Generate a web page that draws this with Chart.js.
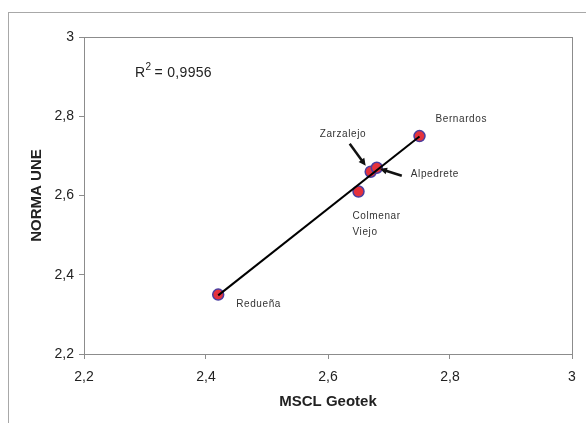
<!DOCTYPE html>
<html>
<head>
<meta charset="utf-8">
<script src="https://cdn.jsdelivr.net/npm/chart.js@4.4.1/dist/chart.umd.min.js"></script>
<style>
  html, body { margin: 0; padding: 0; background: #fff; overflow: hidden; }
  #wrap { position: relative; width: 586px; height: 423px; }
  #frame { position: absolute; left: 8px; top: 12px; width: 700px; height: 500px; border: 1px solid #a8a8a8; }
  canvas { position: absolute; left: 0; top: 0; }
</style>
</head>
<body>
<div id="wrap">
  <div id="frame"></div>
  <canvas id="scatter" width="586" height="423"></canvas>
</div>
<script>
// Datos
var sites = ['Redueña', 'Colmenar Viejo', 'Zarzalejo', 'Alpedrete', 'Bernardos'];
var mscl = [2.42, 2.65, 2.67, 2.68, 2.75];
var une = [2.35, 2.61, 2.66, 2.67, 2.75];
var axisTicks = [2.2, 2.4, 2.6, 2.8, 3];
var r2Text = '0,9956';

document.addEventListener('DOMContentLoaded', function () {
  var ctx = document.getElementById('scatter').getContext('2d');

  // Recta de regresion (minimos cuadrados)
  var n = mscl.length, mx = 0, my = 0;
  for (var i = 0; i < n; i++) { mx += mscl[i] / n; my += une[i] / n; }
  var sxy = 0, sxx = 0;
  for (i = 0; i < n; i++) { sxy += (mscl[i] - mx) * (une[i] - my); sxx += (mscl[i] - mx) * (mscl[i] - mx); }
  var slope = sxy / sxx, icpt = my - slope * mx;
  var xMin = Math.min.apply(null, mscl), xMax = Math.max.apply(null, mscl);
  var trend = [{ x: xMin, y: icpt + slope * xMin }, { x: xMax, y: icpt + slope * xMax }];

  var points = mscl.map(function (v, k) { return { x: v, y: une[k] }; });

  function fmt(v) { return String(Math.round(v * 10) / 10).replace('.', ','); }

  // Posicion de las etiquetas respecto a cada punto (px)
  var labelPos = {
    'Redueña': { dx: 18, dy: 10, lines: ['Redueña'] },
    'Colmenar Viejo': { dx: -6, dy: 25, lines: ['Colmenar', 'Viejo'] },
    'Zarzalejo': { dx: -51, dy: -37, lines: ['Zarzalejo'], arrow: [-21, -28, -5, -6] },
    'Alpedrete': { dx: 34, dy: 6, lines: ['Alpedrete'], arrow: [25, 8, 3, 1] },
    'Bernardos': { dx: 16, dy: -17, lines: ['Bernardos'] }
  };

  function drawArrow(c, x1, y1, x2, y2) {
    var a = Math.atan2(y2 - y1, x2 - x1), h = 8;
    c.beginPath();
    c.moveTo(x1, y1);
    c.lineTo(x2 - Math.cos(a) * 4, y2 - Math.sin(a) * 4);
    c.stroke();
    c.beginPath();
    c.moveTo(x2, y2);
    c.lineTo(x2 - h * Math.cos(a - 0.45), y2 - h * Math.sin(a - 0.45));
    c.lineTo(x2 - h * Math.cos(a + 0.45), y2 - h * Math.sin(a + 0.45));
    c.closePath();
    c.fill();
  }

  var extras = {
    id: 'extras',
    beforeDatasetsDraw: function (chart) {
      var a = chart.chartArea, c = chart.ctx;
      c.save();
      c.strokeStyle = '#8c8c8c';
      c.lineWidth = 1;
      c.strokeRect(a.left + 0.5, a.top + 0.5, a.right - a.left, a.bottom - a.top);
      c.restore();
    },
    afterDatasetsDraw: function (chart) {
      var c = chart.ctx, xs = chart.scales.x, ys = chart.scales.y;
      c.save();
      c.fillStyle = '#333';
      c.font = '10px "Liberation Sans", Arial, sans-serif';
      c.letterSpacing = '0.6px';
      c.textBaseline = 'middle';
      sites.forEach(function (s, k) {
        var px = xs.getPixelForValue(mscl[k]), py = ys.getPixelForValue(une[k]);
        var p = labelPos[s];
        p.lines.forEach(function (t, j) { c.fillText(t, px + p.dx, py + p.dy + j * 16); });
        if (p.arrow) {
          c.strokeStyle = '#111';
          c.fillStyle = '#111';
          c.lineWidth = 2.5;
          drawArrow(c, px + p.arrow[0], py + p.arrow[1], px + p.arrow[2], py + p.arrow[3]);
          c.fillStyle = '#333';
        }
      });
      // R^2
      c.letterSpacing = '0.3px';
      c.fillStyle = '#222';
      c.font = '14px "Liberation Sans", Arial, sans-serif';
      c.fillText('R', 135, 73);
      var w = c.measureText('R').width;
      c.font = '10px "Liberation Sans", Arial, sans-serif';
      c.fillText('2', 135 + w, 67);
      c.font = '14px "Liberation Sans", Arial, sans-serif';
      c.fillText(' = ' + r2Text, 135 + w + 5, 73);
      c.restore();
    }
  };

  var tickFont = { family: '"Liberation Sans", Arial, sans-serif', size: 14 };
  var titleFont = { family: '"Liberation Sans", Arial, sans-serif', size: 15, weight: 'bold' };

  new Chart(ctx, {
    type: 'scatter',
    data: {
      datasets: [
        {
          type: 'line',
          data: trend,
          borderColor: '#000',
          borderWidth: 2,
          pointRadius: 0,
          fill: false,
          order: 0
        },
        {
          data: points,
          backgroundColor: '#e5323c',
          borderColor: '#4a3ea0',
          borderWidth: 1.5,
          pointRadius: 5.5,
          order: 1
        }
      ]
    },
    options: {
      responsive: false,
      animation: false,
      layout: { padding: { left: 0, top: 37, right: 14, bottom: 0 } },
      plugins: { legend: { display: false }, tooltip: { enabled: false } },
      scales: {
        x: {
          type: 'linear',
          min: 2.2,
          max: 3,
          afterBuildTicks: function (s) { s.ticks = axisTicks.map(function (v) { return { value: v }; }); },
          afterFit: function (s) { s.height = 69; },
          grid: { drawOnChartArea: false, tickLength: 5, color: '#8c8c8c' },
          border: { color: '#8c8c8c' },
          ticks: { color: '#222', font: tickFont, padding: 10, maxRotation: 0, callback: function (v) { return fmt(v); } },
          title: { display: true, text: 'MSCL Geotek', color: '#222', font: titleFont, padding: { top: 0, bottom: 12 } }
        },
        y: {
          type: 'linear',
          min: 2.2,
          max: 3,
          afterBuildTicks: function (s) { s.ticks = axisTicks.map(function (v) { return { value: v }; }); },
          afterFit: function (s) { s.width = 84; },
          grid: { drawOnChartArea: false, tickLength: 5, color: '#8c8c8c' },
          border: { color: '#8c8c8c' },
          ticks: { color: '#222', font: tickFont, padding: 5, callback: function (v) { return fmt(v); } },
          title: { display: true, text: 'NORMA UNE', color: '#222', font: titleFont, padding: { top: 28, bottom: 0 } }
        }
      }
    },
    plugins: [extras]
  });
});
</script>
</body>
</html>
